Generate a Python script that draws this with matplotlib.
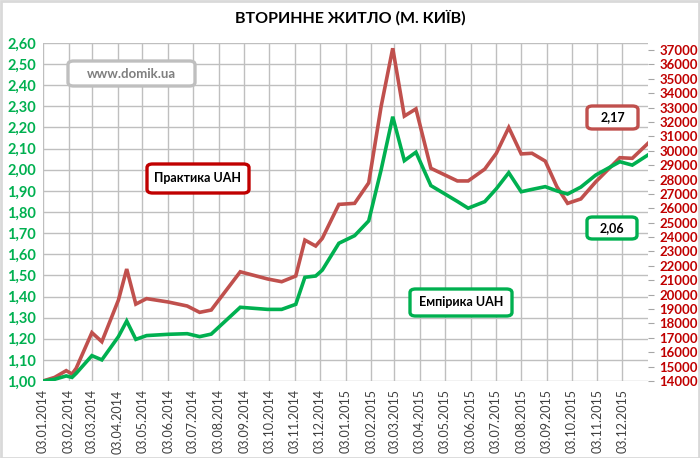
import matplotlib
matplotlib.use("Agg")
import matplotlib.pyplot as plt
import matplotlib.dates as mdates
import matplotlib.patches as mpatches
from matplotlib.ticker import FuncFormatter, MultipleLocator
import pandas as pd

plt.rcParams['font.family'] = ['Lato', 'DejaVu Sans']

dates = ["2014-01-03", "2014-01-17", "2014-01-31", "2014-02-07", "2014-02-12",
         "2014-03-03", "2014-03-15", "2014-04-04", "2014-04-14", "2014-04-25",
         "2014-05-08", "2014-06-03", "2014-06-26", "2014-07-11", "2014-07-25",
         "2014-08-29", "2014-10-01", "2014-10-18", "2014-11-04", "2014-11-15",
         "2014-11-28", "2014-12-06", "2014-12-26", "2015-01-14", "2015-01-31",
         "2015-02-15", "2015-03-01", "2015-03-15", "2015-03-29", "2015-04-16",
         "2015-05-18", "2015-05-31", "2015-06-20", "2015-07-04", "2015-07-19",
         "2015-08-03", "2015-08-16", "2015-09-01", "2015-09-15", "2015-09-28",
         "2015-10-14", "2015-11-01", "2015-11-30", "2015-12-15", "2016-01-03"]

praktika = [1.00, 1.017, 1.049, 1.033, 1.06,
            1.229, 1.186, 1.383, 1.53, 1.364,
            1.39, 1.374, 1.355, 1.325, 1.336,
            1.517, 1.483, 1.47, 1.497, 1.667,
            1.639, 1.675, 1.836, 1.841, 1.938,
            2.30, 2.575, 2.254, 2.288, 2.007,
            1.947, 1.947, 2.003, 2.078, 2.20,
            2.075, 2.078, 2.041, 1.92, 1.841,
            1.862, 1.943, 2.057, 2.054, 2.125]

empirika = [1.00, 1.008, 1.024, 1.017, 1.036,
            1.12, 1.10, 1.21, 1.284, 1.197,
            1.215, 1.221, 1.224, 1.21, 1.222,
            1.349, 1.339, 1.339, 1.363, 1.491,
            1.497, 1.525, 1.652, 1.688, 1.758,
            2.00, 2.251, 2.043, 2.083, 1.925,
            1.85, 1.818, 1.849, 1.91, 1.986,
            1.896, 1.907, 1.92, 1.90, 1.885,
            1.918, 1.975, 2.038, 2.022, 2.07]

x_ticks = pd.date_range("2014-01-01", "2015-12-01", freq="MS") + pd.Timedelta(days=2)
title = "ВТОРИННЕ ЖИТЛО (М. КИЇВ)"
label_praktika = "Практика UAH"
label_empirika = "Емпірика UAH"
last_praktika = "2,17"
last_empirika = "2,06"
site = "www.domik.ua"

W, H = 700, 458
fig = plt.figure(figsize=(7.0, 4.58), dpi=100)
fig.patch.set_facecolor("white")

ax = fig.add_axes([43 / W, 1 - 381 / H, (648 - 43) / W, (381 - 43) / H])
d = pd.to_datetime(dates)
ax.plot(d, praktika, color="#C0504D", lw=2.6, zorder=3, solid_joinstyle="miter")
ax.plot(d, empirika, color="#00B050", lw=2.6, zorder=4, solid_joinstyle="miter")

ax.set_xlim(pd.Timestamp("2014-01-03"), pd.Timestamp("2016-01-03"))
ax.set_ylim(1.0, 2.6)
ax.yaxis.set_major_locator(MultipleLocator(0.1))
ax.yaxis.set_major_formatter(FuncFormatter(lambda v, p: f"{v:.2f}".replace(".", ",")))
ax.set_xticks(x_ticks)
ax.xaxis.set_major_formatter(mdates.DateFormatter("%d.%m.%Y"))
ax.tick_params(axis="x", rotation=90, labelsize=9, colors="#404040", length=0, pad=6)
ax.tick_params(axis="y", labelsize=10.5, length=0, pad=5)
for t in ax.get_yticklabels():
    t.set_color("#00B050")
    t.set_fontweight("bold")
ax.grid(True, color="#BFBFBF", lw=1.0)
ax.set_axisbelow(True)
for s in ax.spines.values():
    s.set_visible(False)

ax2 = ax.twinx()
ax2.set_ylim(14000, 37490)
ax2.yaxis.set_major_locator(MultipleLocator(1000))
ax2.tick_params(axis="y", labelsize=9.5, length=4, color="#A6A6A6", pad=4)
for t in ax2.get_yticklabels():
    t.set_color("#C00000")
    t.set_fontweight("bold")
for s in ax2.spines.values():
    s.set_visible(False)

fig.text(0.5, 1 - 18 / H, title, ha="center", va="center", fontsize=11.5,
         fontweight="bold", color="black")


def box(x0, y0, x1, y1, text, edge, tcolor="black", fs=9):
    bx = mpatches.FancyBboxPatch((x0 / W, 1 - y1 / H), (x1 - x0) / W, (y1 - y0) / H,
                                 boxstyle="round,pad=0,rounding_size=0.008",
                                 transform=fig.transFigure, facecolor="white",
                                 edgecolor=edge, lw=2.4, zorder=10)
    fig.add_artist(bx)
    fig.text((x0 + x1) / 2 / W, 1 - (y0 + y1) / 2 / H, text, ha="center", va="center",
             fontsize=fs, fontweight="bold", color=tcolor, zorder=11)


box(68, 61, 195, 86, site, "#BFBFBF", "#7F7F7F", 9.5)
box(147, 164, 249, 193, label_praktika, "#C00000")
box(410, 289, 512, 316, label_empirika, "#00B050")
box(587, 106, 638, 129, last_praktika, "#C0504D")
box(587, 217, 637, 239, last_empirika, "#00B050")

frame = mpatches.Rectangle((0.001, 0.001), 0.997, 0.996, transform=fig.transFigure,
                           fill=False, edgecolor="#D9D9D9", lw=2)
fig.add_artist(frame)

fig.savefig("out.png", dpi=100)
